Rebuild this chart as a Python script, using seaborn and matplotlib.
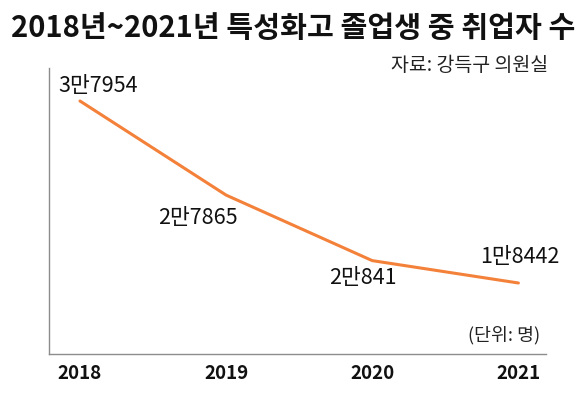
import matplotlib
matplotlib.use("Agg")
import matplotlib.pyplot as plt
import seaborn as sns
import pandas as pd

years = [2018, 2019, 2020, 2021]
employed = [37954, 27865, 20841, 18442]
value_labels = ["3만7954", "2만7865", "2만841", "1만8442"]
tick_labels = ["2018", "2019", "2020", "2021"]

sns.set_style("white")
plt.rcParams['font.family'] = ['Noto Sans CJK KR', 'DejaVu Sans']

df = pd.DataFrame({"year": years, "employed": employed})

fig = plt.figure(figsize=(5.86, 3.95), dpi=100)
ax = fig.add_axes([0.0836, 0.1038, 0.8484, 0.724])
sns.lineplot(data=df, x="year", y="employed", ax=ax, color="#F4813A", linewidth=2.2)

ax.set_xlim(2017.788, 2021.19)
ax.set_ylim(10830, 41490)
ax.set_xticks(years)
ax.set_xticklabels(tick_labels, fontsize=13.5, fontweight="bold", color="#111111")
ax.tick_params(axis="x", length=0, pad=7.5)
ax.set_yticks([])
ax.set_xlabel("")
ax.set_ylabel("")
for s in ["top", "right"]:
    ax.spines[s].set_visible(False)
for s in ["left", "bottom"]:
    ax.spines[s].set_color("#8c8c8c")
    ax.spines[s].set_linewidth(1.0)

# value labels
offsets = [(13, 10.8), (-20, -16.5), (-6.5, -12.2), (0.7, 18.7)]
for x, y, lab, (dx, dy) in zip(years, employed, value_labels, offsets):
    ax.annotate(lab, (x, y), xytext=(dx, dy), textcoords="offset points",
                ha="center", va="center", fontsize=15.5, color="#111111")

fig.text(0.5, 0.929, "2018년~2021년 특성화고 졸업생 중 취업자 수",
         ha="center", va="center", fontsize=21, fontweight="heavy", color="#111111")
fig.text(0.935, 0.835, "자료: 강득구 의원실", ha="right", va="center",
         fontsize=14, color="#222222")
fig.text(0.922, 0.152, "(단위: 명)", ha="right", va="center",
         fontsize=13.2, color="#222222")

fig.savefig("out.png", dpi=100)
